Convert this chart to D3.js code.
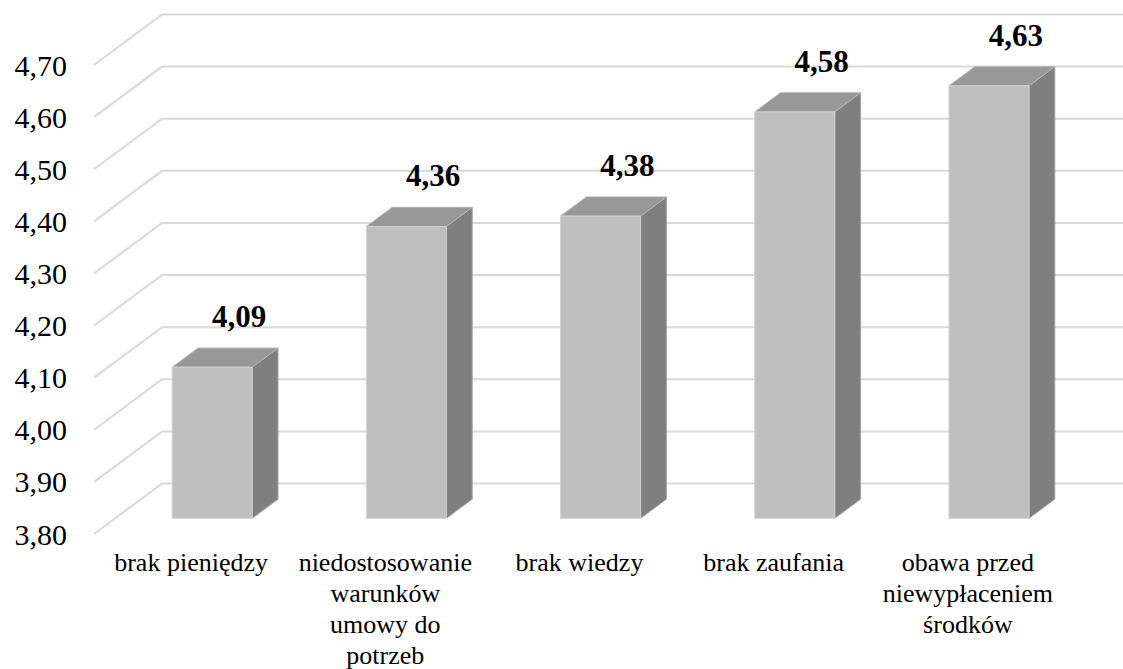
<!DOCTYPE html>
<html>
<head>
<meta charset="utf-8">
<script src="https://cdn.jsdelivr.net/npm/d3@7"></script>
<style>
  html, body { margin: 0; padding: 0; background: #ffffff; }
  svg { display: block; }
  svg text { font-family: "Liberation Serif", "Times New Roman", Times, serif; }
</style>
</head>
<body>
<svg id="chart" width="1123" height="669"></svg>
<script>
// Average ratings of barriers, drawn as 3D columns
const categories = [
  ["brak pieniędzy"],
  ["niedostosowanie", "warunków", "umowy do", "potrzeb"],
  ["brak wiedzy"],
  ["brak zaufania"],
  ["obawa przed", "niewypłaceniem", "środków"]
];
const values = [4.09, 4.36, 4.38, 4.58, 4.63];
const valueLabels = ["4,09", "4,36", "4,38", "4,58", "4,63"];
const tickValues = [3.8, 3.9, 4.0, 4.1, 4.2, 4.3, 4.4, 4.5, 4.6, 4.7];

const W = 1123, H = 669;
const svg = d3.select("#chart");

// Front plane of the plot and the depth vector (front -> back wall)
const frontLeft = 94, frontRight = 1065;
const depthX = 68, depthY = -50.5;

const x = d3.scaleBand()
  .domain(d3.range(categories.length))
  .range([frontLeft, frontRight])
  .paddingInner(0).paddingOuter(0);

const y = d3.scaleLinear().domain([3.8, 4.7]).range([534, 65]);

const fmt = v => d3.format(".2f")(v).replace(".", ",");

// project a front-plane point to depth fraction f
const P = (px, py, f) => [px + f * depthX, py + f * depthY];

// Gridlines: diagonal on the side wall, horizontal on the back wall
const grid = svg.append("g").attr("stroke", "#d9d9d9").attr("stroke-width", 2).attr("fill", "none");
tickValues.forEach(t => {
  const [bx, by] = P(frontLeft, y(t), 1);
  grid.append("path")
    .attr("d", `M${frontLeft},${y(t)}L${bx},${by}L${frontRight + depthX},${by}`);
});

// Tick labels
svg.append("g").selectAll("text")
  .data(tickValues)
  .join("text")
  .attr("x", 67)
  .attr("y", d => y(d))
  .attr("dy", "0.35em")
  .attr("text-anchor", "end")
  .attr("font-size", 30)
  .attr("fill", "#000")
  .text(fmt);

// Columns
const barWidthRatio = 0.412;
const fFront = 0.31, fBack = 0.69;
const bars = svg.append("g");
values.forEach((v, i) => {
  const bw = x.bandwidth() * barWidthRatio;
  const cx = x(i) + x.bandwidth() / 2;
  const x0 = cx - bw / 2, x1 = cx + bw / 2;
  const yb = y(3.8), yt = y(v);
  const A = P(x0, yt, fFront), B = P(x1, yt, fFront);
  const C = P(x1, yb, fFront), D = P(x0, yb, fFront);
  const Bb = P(x1, yt, fBack), Ab = P(x0, yt, fBack), Cb = P(x1, yb, fBack);
  const poly = pts => "M" + pts.map(p => p.join(",")).join("L") + "Z";

  // side face
  bars.append("path").attr("d", poly([B, Bb, Cb, C]))
    .attr("fill", "#7f7f7f").attr("stroke", "#a6a6a6").attr("stroke-width", 1);
  // top face
  bars.append("path").attr("d", poly([A, Ab, Bb, B]))
    .attr("fill", "#989898").attr("stroke", "#b4b4b4").attr("stroke-width", 1);
  // front face
  bars.append("path").attr("d", poly([A, B, C, D]))
    .attr("fill", "#bfbfbf").attr("stroke", "#d2d2d2").attr("stroke-width", 1);

  // value label above the back of the column
  const [lx] = P(cx, yt, fBack);
  svg.append("text")
    .attr("x", lx + 1)
    .attr("y", Ab[1] - 21)
    .attr("text-anchor", "middle")
    .attr("font-weight", "bold")
    .attr("font-size", 31)
    .attr("fill", "#000")
    .text(valueLabels[i]);
});

// Category labels
const cat = svg.append("g")
  .attr("font-size", 26)
  .attr("fill", "#000")
  .attr("text-anchor", "middle");
categories.forEach((lines, i) => {
  const t = cat.append("text")
    .attr("x", x(i) + x.bandwidth() / 2)
    .attr("y", 571);
  lines.forEach((ln, j) => {
    t.append("tspan")
      .attr("x", x(i) + x.bandwidth() / 2)
      .attr("dy", j === 0 ? 0 : 31)
      .text(ln);
  });
});
</script>
</body>
</html>
